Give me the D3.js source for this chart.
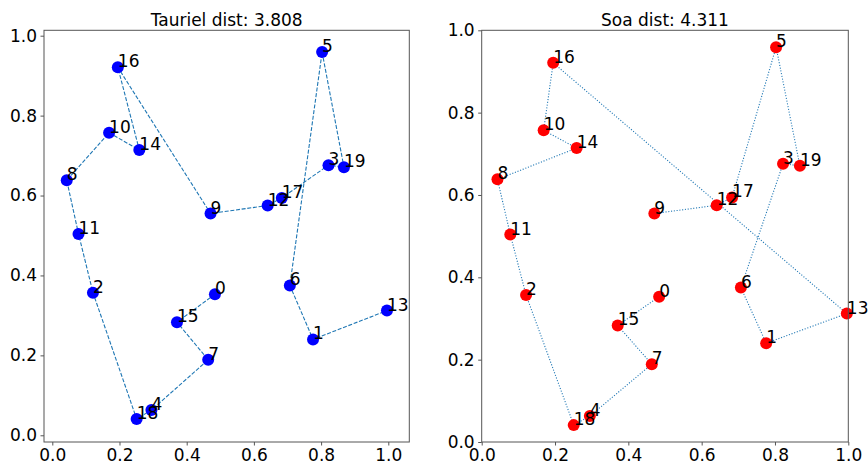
<!DOCTYPE html>
<html>
<head>
<meta charset="utf-8">
<script src="https://cdn.jsdelivr.net/npm/d3@7"></script>
<style>
  body { margin: 0; background: #fff; }
  text { font-family: "DejaVu Sans", sans-serif; fill: #000; }
  .axis path, .axis line { stroke: #555; }
</style>
</head>
<body>
<script>
// city coordinates, index = city id
var cityX = [0.484, 0.776, 0.121, 0.822, 0.295, 0.803, 0.707, 0.464, 0.043, 0.471,
             0.169, 0.078, 0.641, 0.996, 0.259, 0.371, 0.195, 0.683, 0.251, 0.868]
var cityY = [0.353, 0.240, 0.357, 0.676, 0.063, 0.959, 0.375, 0.189, 0.638, 0.555,
             0.757, 0.504, 0.575, 0.312, 0.714, 0.283, 0.921, 0.594, 0.041, 0.671]

// visiting order of each route
var tourTauriel = [0, 15, 7, 4, 18, 2, 11, 8, 10, 14, 16, 9, 12, 17, 3, 19, 5, 6, 1, 13]
var tourSoa = [9, 12, 17, 5, 19, 3, 6, 1, 13, 16, 10, 14, 8, 11, 2, 18, 4, 7, 15, 0]

var ticks = [0, 0.2, 0.4, 0.6, 0.8, 1.0]

var svg = d3.select("body").append("svg")
  .attr("width", 868)
  .attr("height", 468)

svg.append("rect").attr("width", 868).attr("height", 468).attr("fill", "#fff")

var panels = [
  {title: "Tauriel dist: 3.808", tour: tourTauriel, left: 44, right: 409.3,
   xdom: [-0.0247, 1.0625], ydom: [-0.0168, 1.0135], dot: "blue", dash: "4,1.7"},
  {title: "Soa dist: 4.311", tour: tourSoa, left: 481.7, right: 848.3,
   xdom: [0, 1], ydom: [0, 1], dot: "red", dash: "1.1,1.7"}
]
var plotTop = 30.3, plotBottom = 442

panels.forEach(function(p) {
  var x = d3.scaleLinear().domain(p.xdom).range([p.left, p.right])
  var y = d3.scaleLinear().domain(p.ydom).range([plotBottom, plotTop])

  var g = svg.append("g")

  // route
  var line = d3.line()
    .x(function(c) { return x(cityX[c]) })
    .y(function(c) { return y(cityY[c]) })

  g.append("path")
    .datum(p.tour)
    .attr("d", line)
    .attr("fill", "none")
    .attr("stroke", "#1f77b4")
    .attr("stroke-width", 1.1)
    .attr("stroke-dasharray", p.dash)

  var ids = d3.range(cityX.length)

  g.selectAll("circle")
    .data(ids)
    .enter().append("circle")
    .attr("cx", function(c) { return x(cityX[c]) })
    .attr("cy", function(c) { return y(cityY[c]) })
    .attr("r", 6)
    .attr("fill", p.dot)

  g.selectAll("text.lbl")
    .data(ids)
    .enter().append("text")
    .attr("class", "lbl")
    .attr("x", function(c) { return x(cityX[c]) })
    .attr("y", function(c) { return y(cityY[c]) })
    .attr("font-size", "17px")
    .text(function(c) { return c })

  // axes
  g.append("g")
    .attr("class", "axis")
    .attr("transform", "translate(0," + plotBottom + ")")
    .call(d3.axisBottom(x).tickValues(ticks).tickFormat(d3.format(".1f"))
      .tickSizeInner(3.5).tickSizeOuter(0).tickPadding(3.5))
    .call(function(a) { a.select(".domain").remove() })
    .selectAll("text").attr("font-size", "17px").attr("font-family", "DejaVu Sans")

  g.append("g")
    .attr("class", "axis")
    .attr("transform", "translate(" + p.left + ",0)")
    .call(d3.axisLeft(y).tickValues(ticks).tickFormat(d3.format(".1f"))
      .tickSizeInner(3.5).tickSizeOuter(0).tickPadding(3.5))
    .call(function(a) { a.select(".domain").remove() })
    .selectAll("text").attr("font-size", "17px").attr("font-family", "DejaVu Sans")

  g.append("rect")
    .attr("x", p.left)
    .attr("y", plotTop)
    .attr("width", p.right - p.left)
    .attr("height", plotBottom - plotTop)
    .attr("fill", "none")
    .attr("stroke", "#555")
    .attr("stroke-width", 1)

  g.append("text")
    .attr("x", (p.left + p.right) / 2)
    .attr("y", 25.7)
    .attr("text-anchor", "middle")
    .attr("font-size", "17px")
    .text(p.title)
})
</script>
</body>
</html>
